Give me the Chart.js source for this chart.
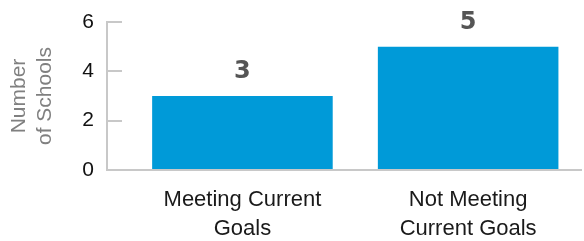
<!DOCTYPE html>
<html><head><meta charset="utf-8">
<script src="https://cdn.jsdelivr.net/npm/chart.js@4/dist/chart.umd.min.js"></script>
<style>html,body{margin:0;padding:0;background:#fff}#wrap{width:584px;height:241px}</style>
</head><body><div id="wrap"><canvas id="c"></canvas></div>
<script>
const categories = [["Meeting Current","Goals"],["Not Meeting","Current Goals"]];
const positions = [0, 1];
const schools = [3, 5];
const yTicks = [0, 2, 4, 6];
const yTitle = ["Number", "of Schools"];

const barLabels = {
  id: 'barLabels',
  afterDatasetsDraw(chart) {
    const ctx = chart.ctx;
    const meta = chart.getDatasetMeta(0);
    ctx.save();
    ctx.font = 'bold 24px "DejaVu Sans"';
    ctx.fillStyle = '#555555';
    ctx.textAlign = 'center';
    ctx.textBaseline = 'alphabetic';
    meta.data.forEach((bar, i) => {
      ctx.fillText(String(schools[i]), bar.x, bar.y - 18);
    });
    ctx.restore();
  }
};

new Chart(document.getElementById('c'), {
  type: 'bar',
  data: {
    datasets: [{
      data: positions.map((x, i) => ({ x: x, y: schools[i] })),
      backgroundColor: '#009ad8',
      categoryPercentage: 0.8,
      barPercentage: 1
    }]
  },
  options: {
    responsive: true, maintainAspectRatio: false, animation: false,
    layout: { padding: { top: 22, right: 3, left: 0, bottom: 0 } },
    plugins: { legend: { display: false }, tooltip: { enabled: false } },
    scales: {
      x: {
        type: 'linear', min: -0.6, max: 1.5, offset: false,
        afterBuildTicks(s) { s.ticks = positions.map(v => ({ value: v })); },
        afterFit(s) { s.height = 71; s.paddingLeft = 0; s.paddingRight = 0; },
        ticks: {
          callback: (v) => categories[positions.indexOf(v)],
          font: { family: '"Liberation Sans", Arial, sans-serif', size: 22, lineHeight: 1.3 },
          color: '#1a1a1a', padding: 16, maxRotation: 0, autoSkip: false
        },
        grid: { display: false, drawTicks: false, offset: false },
        border: { color: '#c8c8c8', width: 2 }
      },
      y: {
        min: 0, max: 6,
        afterBuildTicks(s) { s.ticks = yTicks.map(v => ({ value: v })); },
        afterFit(s) { s.width = 107; s.paddingTop = 0; s.paddingBottom = 0; },
        ticks: { font: { family: '"Liberation Sans", Arial, sans-serif', size: 21 }, color: '#111111', padding: 28 },
        grid: { drawOnChartArea: false, tickLength: -15, color: '#c8c8c8', lineWidth: 2 },
        border: { color: '#c8c8c8', width: 2 },
        title: {
          display: true, text: yTitle, color: '#808080',
          font: { family: '"Liberation Sans", Arial, sans-serif', size: 21, lineHeight: 1.2 },
          padding: { top: 7, bottom: 0 }
        }
      }
    }
  },
  plugins: [barLabels]
});
</script></body></html>
